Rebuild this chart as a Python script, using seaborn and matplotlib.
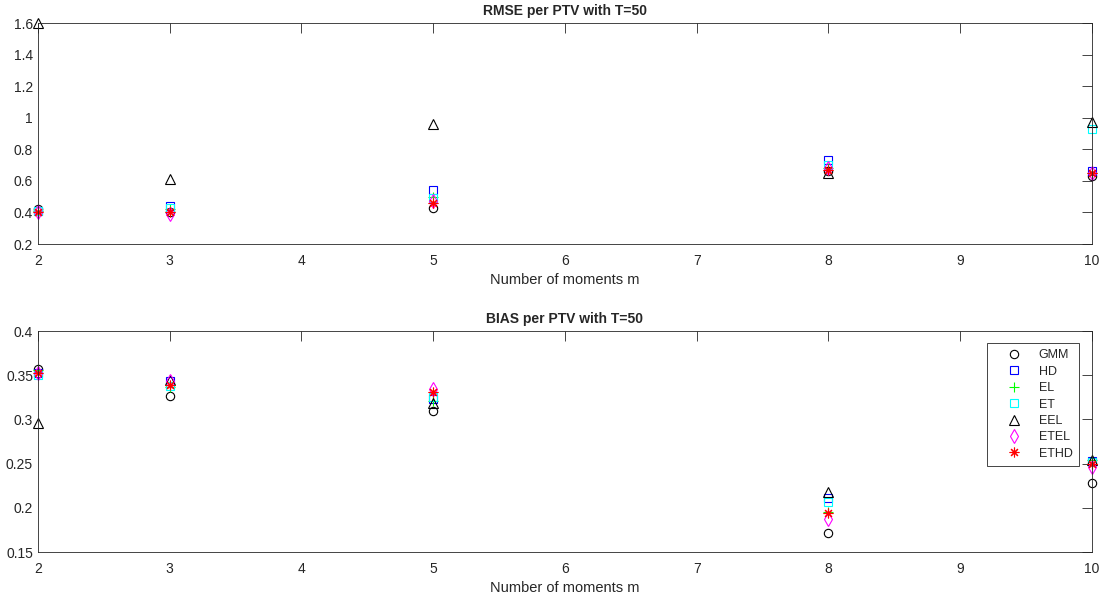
import numpy as np
import pandas as pd
import seaborn as sns
import matplotlib.pyplot as plt

# number of moments on the x axis
moments = [2, 3, 5, 8, 10]
methods = ['GMM', 'HD', 'EL', 'ET', 'EEL', 'ETEL', 'ETHD']

# RMSE per method (T=50)
rmse_gmm = [0.42, 0.40, 0.43, 0.66, 0.63]
rmse_hd = [0.41, 0.44, 0.54, 0.73, 0.66]
rmse_el = [0.41, 0.42, 0.50, 0.68, 0.65]
rmse_et = [0.41, 0.43, 0.49, 0.70, 0.93]
rmse_eel = [1.60, 0.61, 0.96, 0.65, 0.97]
rmse_etel = [0.40, 0.39, 0.47, 0.68, 0.65]
rmse_ethd = [0.40, 0.40, 0.46, 0.67, 0.65]

# BIAS per method (T=50)
bias_gmm = [0.357, 0.326, 0.309, 0.172, 0.228]
bias_hd = [0.352, 0.343, 0.323, 0.211, 0.253]
bias_el = [0.356, 0.337, 0.321, 0.195, 0.254]
bias_et = [0.350, 0.338, 0.325, 0.207, 0.252]
bias_eel = [0.296, 0.345, 0.319, 0.218, 0.254]
bias_etel = [0.353, 0.343, 0.334, 0.187, 0.246]
bias_ethd = [0.352, 0.339, 0.331, 0.194, 0.250]

colors = {'GMM': 'black', 'HD': 'blue', 'EL': '#00ff00', 'ET': 'cyan',
          'EEL': 'black', 'ETEL': 'magenta', 'ETHD': 'red'}
markers = {'GMM': 'o', 'HD': 's', 'EL': '+', 'ET': 's',
           'EEL': '^', 'ETEL': 'd', 'ETHD': (8, 2, 0)}
sizes = {'GMM': 6, 'HD': 5.5, 'EL': 7, 'ET': 5.5, 'EEL': 7, 'ETEL': 7, 'ETHD': 7}

rmse = [rmse_gmm, rmse_hd, rmse_el, rmse_et, rmse_eel, rmse_etel, rmse_ethd]
bias = [bias_gmm, bias_hd, bias_el, bias_et, bias_eel, bias_etel, bias_ethd]

sns.set_style('white')
plt.rcParams['font.family'] = ['Liberation Sans', 'DejaVu Sans']

fig = plt.figure(figsize=(11.07, 6), dpi=100)
ax1 = fig.add_axes([0.0343, 0.5933, 0.9521, 0.3683])
ax2 = fig.add_axes([0.0343, 0.08, 0.9521, 0.3683])


def draw(ax, values, title, ylim, yticks, yticklabels):
    for name, vals in zip(methods, values):
        df = pd.DataFrame({'m': moments, 'v': vals})
        sns.lineplot(data=df, x='m', y='v', ax=ax, color=colors[name],
                     marker=markers[name], linestyle='', markersize=sizes[name],
                     markerfacecolor='none', markeredgecolor=colors[name],
                     markeredgewidth=0.8, errorbar=None, label=name,
                     clip_on=False, legend=False)
    ax.set_xlim(2, 10)
    ax.set_ylim(*ylim)
    ax.set_xticks(range(2, 11))
    ax.set_yticks(yticks)
    ax.set_yticklabels(yticklabels)
    ax.set_title(title, fontsize=10, fontweight='bold', pad=6)
    ax.set_xlabel('Number of moments m', fontsize=10.5, color='#262626', labelpad=3.5)
    ax.set_ylabel('')
    ax.tick_params(direction='in', length=7.5, width=0.6, labelsize=10,
                   colors='#262626', top=True, right=True)
    ax.tick_params(axis='x', pad=7)
    ax.tick_params(axis='y', pad=3.5)
    for sp in ax.spines.values():
        sp.set_color('#262626')
        sp.set_linewidth(0.6)
        sp.set_visible(True)


draw(ax1, rmse, 'RMSE per PTV with T=50', (0.2, 1.6),
     [0.2, 0.4, 0.6, 0.8, 1.0, 1.2, 1.4, 1.6],
     ['0.2', '0.4', '0.6', '0.8', '1', '1.2', '1.4', '1.6'])
draw(ax2, bias, 'BIAS per PTV with T=50', (0.15, 0.4),
     [0.15, 0.2, 0.25, 0.3, 0.35, 0.4],
     ['0.15', '0.2', '0.25', '0.3', '0.35', '0.4'])

leg = ax2.legend(loc='upper right', bbox_to_anchor=(0.9875, 0.945), fontsize=9,
                 frameon=True, fancybox=False, framealpha=1, edgecolor='#262626',
                 handlelength=3.36, handletextpad=0.3, borderpad=0.5,
                 labelspacing=0.35, borderaxespad=0)
leg.get_frame().set_linewidth(0.6)

fig.savefig('out.png', dpi=100)
